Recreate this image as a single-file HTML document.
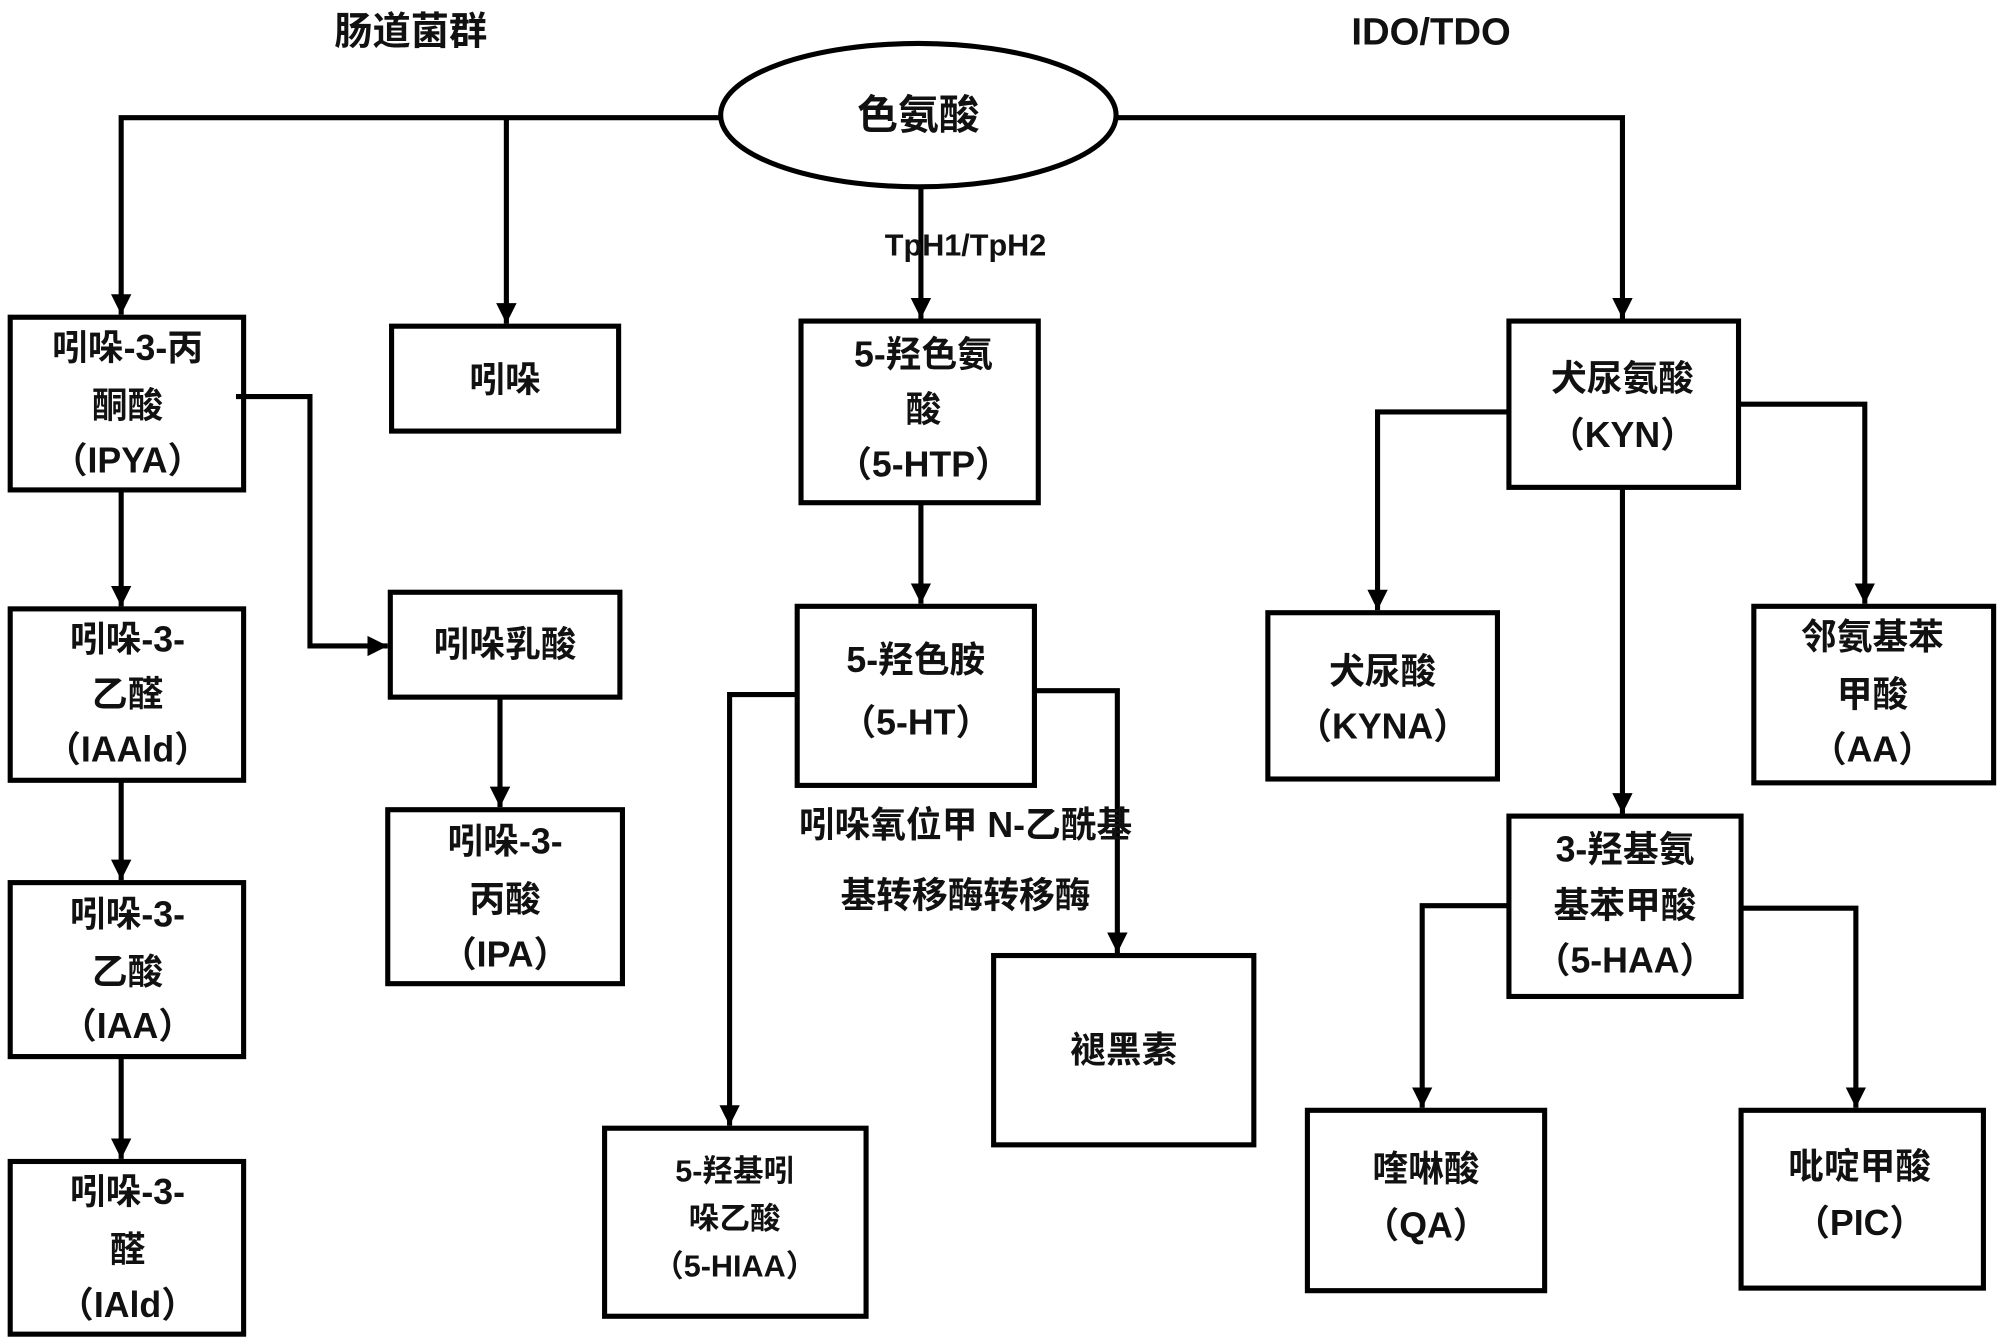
<!DOCTYPE html>
<html><head><meta charset="utf-8">
<style>
html,body{margin:0;padding:0;background:#fff;}
svg{display:block;}
text{font-family:"Liberation Sans","Noto Sans CJK SC",sans-serif;font-weight:bold;fill:#111;text-anchor:middle;dominant-baseline:central;}
</style></head>
<body>
<svg width="2000" height="1338" viewBox="0 0 1568 1046" preserveAspectRatio="none" xmlns="http://www.w3.org/2000/svg">
<defs>
<marker id="a" viewBox="0 0 10 10" refX="10" refY="5" markerWidth="4" markerHeight="4" orient="auto" markerUnits="strokeWidth">
<path d="M0,0 L10,5 L0,10 z" fill="#000"/>
</marker>
</defs>
<g fill="none" stroke="#000" stroke-width="4">
<ellipse cx="720" cy="90" rx="155" ry="56"/>
<rect x="8" y="248" width="183" height="135"/>
<rect x="307" y="255" width="178" height="82"/>
<rect x="628" y="251" width="186" height="142"/>
<rect x="1183" y="251" width="180" height="130"/>
<rect x="8" y="476" width="183" height="134"/>
<rect x="306" y="463" width="180" height="82"/>
<rect x="625" y="474" width="186" height="140"/>
<rect x="994" y="479" width="180" height="130"/>
<rect x="1375" y="474" width="188" height="138"/>
<rect x="8" y="690" width="183" height="136"/>
<rect x="304" y="633" width="184" height="136"/>
<rect x="1183" y="638" width="182" height="141"/>
<rect x="779" y="747" width="204" height="148"/>
<rect x="8" y="908" width="183" height="135"/>
<rect x="474" y="882" width="205" height="147"/>
<rect x="1025" y="868" width="186" height="141"/>
<rect x="1365" y="868" width="190" height="139"/>

<polyline points="565,92 95,92 95,246" marker-end="url(#a)"/>
<polyline points="397,92 397,253" marker-end="url(#a)"/>
<polyline points="875,92 1272,92 1272,249" marker-end="url(#a)"/>
<polyline points="722,146 722,249" marker-end="url(#a)"/>
<polyline points="185,310 243,310 243,505 304,505" marker-end="url(#a)"/>
<polyline points="95,383 95,474" marker-end="url(#a)"/>
<polyline points="95,610 95,688" marker-end="url(#a)"/>
<polyline points="95,826 95,906" marker-end="url(#a)"/>
<polyline points="392,545 392,631" marker-end="url(#a)"/>
<polyline points="722,393 722,472" marker-end="url(#a)"/>
<polyline points="625,543 572,543 572,880" marker-end="url(#a)"/>
<polyline points="811,540 876,540 876,745" marker-end="url(#a)"/>
<polyline points="1183,322 1080,322 1080,477" marker-end="url(#a)"/>
<polyline points="1363,316 1462,316 1462,472" marker-end="url(#a)"/>
<polyline points="1272,381 1272,636" marker-end="url(#a)"/>
<polyline points="1183,708 1115,708 1115,866" marker-end="url(#a)"/>
<polyline points="1365,710 1455,710 1455,866" marker-end="url(#a)"/>
</g>
<g font-size="28">
<text x="322" y="25" font-size="30">肠道菌群</text>
<text x="1122" y="25" font-size="30">IDO/TDO</text>
<text x="720" y="90" font-size="32">色氨酸</text>
<text x="757" y="192" font-size="24">TpH1/TpH2</text>
<text x="100" y="272">吲哚-3-丙</text><text x="100" y="317">酮酸</text><text x="100" y="360">（IPYA）</text>
<text x="396" y="297">吲哚</text>
<text x="724" y="277">5-羟色氨</text><text x="724" y="320">酸</text><text x="724" y="363">（5-HTP）</text>
<text x="1272" y="296">犬尿氨酸</text><text x="1272" y="340">（KYN）</text>
<text x="100" y="500">吲哚-3-</text><text x="100" y="543">乙醛</text><text x="100" y="586">（IAAld）</text>
<text x="396" y="504">吲哚乳酸</text>
<text x="718" y="516">5-羟色胺</text><text x="718" y="565">（5-HT）</text>
<text x="1084" y="525">犬尿酸</text><text x="1084" y="568">（KYNA）</text>
<text x="1468" y="498">邻氨基苯</text><text x="1468" y="543">甲酸</text><text x="1468" y="586">（AA）</text>
<text x="100" y="715">吲哚-3-</text><text x="100" y="760">乙酸</text><text x="100" y="802">（IAA）</text>
<text x="396" y="658">吲哚-3-</text><text x="396" y="703">丙酸</text><text x="396" y="746">（IPA）</text>
<text x="1274" y="664">3-羟基氨</text><text x="1274" y="708">基苯甲酸</text><text x="1274" y="751">（5-HAA）</text>
<text x="757" y="645">吲哚氧位甲 N-乙酰基</text>
<text x="757" y="700">基转移酶转移酶</text>
<text x="881" y="821">褪黑素</text>
<text x="100" y="932">吲哚-3-</text><text x="100" y="977">醛</text><text x="100" y="1020">（IAld）</text>
<text x="576" y="916" font-size="24">5-羟基吲</text><text x="576" y="953" font-size="24">哚乙酸</text><text x="576" y="990" font-size="24">（5-HIAA）</text>
<text x="1118" y="914">喹啉酸</text><text x="1118" y="958">（QA）</text>
<text x="1458" y="912">吡啶甲酸</text><text x="1458" y="956">（PIC）</text>
</g>
</svg>
</body></html>
